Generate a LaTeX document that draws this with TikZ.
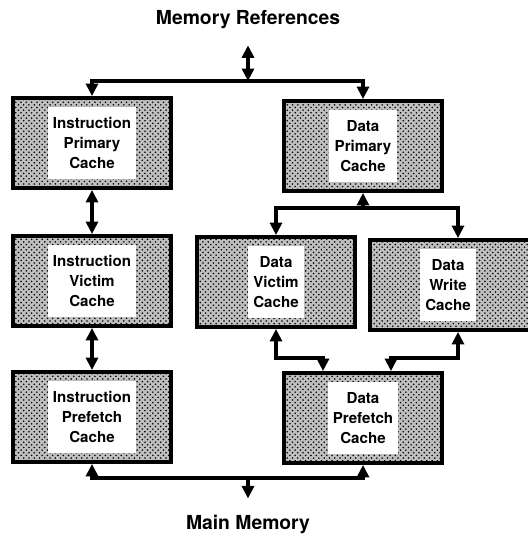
\documentclass[tikz,border=0pt]{standalone}
\usepackage{fontspec}
\setmainfont{TeX Gyre Heros}
\usetikzlibrary{arrows.meta,patterns,positioning}

\begin{document}
\begin{tikzpicture}[x=0.02cm, y=-0.02cm
    , >={Triangle[length=2.5mm,width=2.4mm]}
    , every node/.style={font=\bfseries}
    , cachebox/.style={draw,line width=2.2pt,minimum width=3.16cm,minimum height=1.8cm,
        preaction={fill=gray!50},pattern=crosshatch dots,pattern color=black}
    , cachetext/.style={fill=white,align=center,inner xsep=3pt,inner ysep=6pt,
        font=\fontsize{8.6}{11.4}\selectfont\bfseries}
    , bus/.style={line width=2.3pt}
]
    \useasboundingbox (0,0) rectangle (528,545);

    \node (memref) at (248,20) {\fontsize{11}{13}\selectfont Memory References};
    \node (mainmem) at (248,524) {\fontsize{11}{13}\selectfont Main Memory};

    % Instruction side.
    \foreach \kind/\y [count=\i] in {Primary/143,Victim/281,Prefetch/417}
    {
        \node[cachebox] (inst\i) at (92,\y) {};
        \node[cachetext] at (inst\i) {Instruction\\\kind\\Cache};
    }

    % Data side.
    \node[cachebox] (dpc) at (363,146) {};
    \node[cachetext] at (dpc) {Data\\Primary\\Cache};

    \node[cachebox] (dvc) at (276,282) {};
    \node[cachetext] at (dvc) {Data\\Victim\\Cache};

    \node[cachebox,minimum width=3.52cm] (dwc) at (458,285) {};
    \node[cachetext] at ([xshift=-0.2cm]dwc.center) {Data\\Write\\Cache};

    \node[cachebox] (dpf) at (363,418) {};
    \node[cachetext] at (dpf) {Data\\Prefetch\\Cache};

    % Buses.
    \coordinate (topbus) at (248,81);
    \coordinate (dbus) at (363,208);
    \coordinate (botbus) at (248,478);

    \draw[bus,<->,shorten <=0.2cm] (memref) -- (topbus);
    \draw[bus,<->] (inst1.north) |- (topbus) -| (dpc.north);

    \draw[bus,<->] (inst1) -- (inst2);
    \draw[bus,<->] (inst2) -- (inst3);

    \draw[bus,->] (dbus) -- (dpc.south);
    \draw[bus,<->] (dvc.north) |- (dbus) -| (dwc.north);

    \draw[bus,<->] (dvc.south) -- ++(0,29) -| ([xshift=-0.8cm]dpf.north);
    \draw[bus,<->] (dwc.south) -- ++(0,26) -| ([xshift=0.56cm]dpf.north);

    \draw[bus,<->] (inst3.south) |- (botbus) -| (dpf.south);
    \draw[bus,->,shorten >=0.2cm] (botbus) -- (mainmem);

\end{tikzpicture}
\end{document}
